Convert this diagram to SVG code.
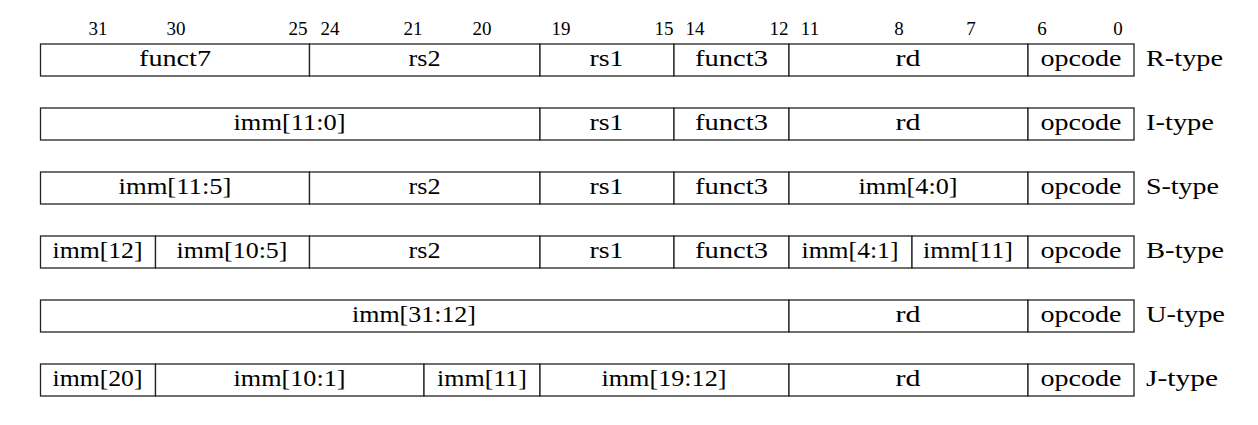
<svg xmlns="http://www.w3.org/2000/svg" width="1258" height="425" viewBox="0 0 1258 425">
<style>
rect.c{fill:#fff;stroke:#222;stroke-width:1.3}
text{font-family:"Liberation Serif","Times New Roman",serif;fill:#000}
.l{font-size:23px;text-anchor:middle}
.b{font-size:19px;text-anchor:middle}
.t{font-size:23px}
</style>
<rect width="1258" height="425" fill="#fff"/>
<g id="bits">
<text class="b" x="98" y="35">31</text>
<text class="b" x="176" y="35">30</text>
<text class="b" x="298" y="35">25</text>
<text class="b" x="330" y="35">24</text>
<text class="b" x="413" y="35">21</text>
<text class="b" x="482" y="35">20</text>
<text class="b" x="561" y="35">19</text>
<text class="b" x="664" y="35">15</text>
<text class="b" x="695" y="35">14</text>
<text class="b" x="779" y="35">12</text>
<text class="b" x="810" y="35">11</text>
<text class="b" x="899" y="35">8</text>
<text class="b" x="971" y="35">7</text>
<text class="b" x="1042" y="35">6</text>
<text class="b" x="1118" y="35">0</text>
</g>
<g id="r-type">
<rect class="c" x="40.5" y="44" width="269" height="32"/><text class="l" x="175" y="66" textLength="72" lengthAdjust="spacingAndGlyphs">funct7</text>
<rect class="c" x="309.5" y="44" width="230.5" height="32"/><text class="l" x="424.5" y="66" textLength="32" lengthAdjust="spacingAndGlyphs">rs2</text>
<rect class="c" x="540" y="44" width="134" height="32"/><text class="l" x="606.5" y="66" textLength="34" lengthAdjust="spacingAndGlyphs">rs1</text>
<rect class="c" x="674" y="44" width="115" height="32"/><text class="l" x="731.5" y="66" textLength="73" lengthAdjust="spacingAndGlyphs">funct3</text>
<rect class="c" x="789" y="44" width="239" height="32"/><text class="l" x="908" y="66" textLength="25" lengthAdjust="spacingAndGlyphs">rd</text>
<rect class="c" x="1028" y="44" width="106" height="32"/><text class="l" x="1081" y="66" textLength="81" lengthAdjust="spacingAndGlyphs">opcode</text>
<text class="t" x="1146" y="66" textLength="77" lengthAdjust="spacingAndGlyphs">R-type</text>
</g>
<g id="i-type">
<rect class="c" x="40.5" y="108" width="499.5" height="32"/><text class="l" x="289.5" y="130" textLength="112" lengthAdjust="spacingAndGlyphs">imm[11:0]</text>
<rect class="c" x="540" y="108" width="134" height="32"/><text class="l" x="606.5" y="130" textLength="34" lengthAdjust="spacingAndGlyphs">rs1</text>
<rect class="c" x="674" y="108" width="115" height="32"/><text class="l" x="731.5" y="130" textLength="73" lengthAdjust="spacingAndGlyphs">funct3</text>
<rect class="c" x="789" y="108" width="239" height="32"/><text class="l" x="908" y="130" textLength="25" lengthAdjust="spacingAndGlyphs">rd</text>
<rect class="c" x="1028" y="108" width="106" height="32"/><text class="l" x="1081" y="130" textLength="81" lengthAdjust="spacingAndGlyphs">opcode</text>
<text class="t" x="1146" y="130" textLength="68" lengthAdjust="spacingAndGlyphs">I-type</text>
</g>
<g id="s-type">
<rect class="c" x="40.5" y="172" width="269" height="32"/><text class="l" x="175" y="194" textLength="113" lengthAdjust="spacingAndGlyphs">imm[11:5]</text>
<rect class="c" x="309.5" y="172" width="230.5" height="32"/><text class="l" x="424.5" y="194" textLength="32" lengthAdjust="spacingAndGlyphs">rs2</text>
<rect class="c" x="540" y="172" width="134" height="32"/><text class="l" x="606.5" y="194" textLength="34" lengthAdjust="spacingAndGlyphs">rs1</text>
<rect class="c" x="674" y="172" width="115" height="32"/><text class="l" x="731.5" y="194" textLength="73" lengthAdjust="spacingAndGlyphs">funct3</text>
<rect class="c" x="789" y="172" width="239" height="32"/><text class="l" x="908" y="194" textLength="99" lengthAdjust="spacingAndGlyphs">imm[4:0]</text>
<rect class="c" x="1028" y="172" width="106" height="32"/><text class="l" x="1081" y="194" textLength="81" lengthAdjust="spacingAndGlyphs">opcode</text>
<text class="t" x="1146" y="194" textLength="73" lengthAdjust="spacingAndGlyphs">S-type</text>
</g>
<g id="b-type">
<rect class="c" x="40.5" y="236" width="115" height="32"/><text class="l" x="97.5" y="258" textLength="90" lengthAdjust="spacingAndGlyphs">imm[12]</text>
<rect class="c" x="155.5" y="236" width="154" height="32"/><text class="l" x="232" y="258" textLength="111" lengthAdjust="spacingAndGlyphs">imm[10:5]</text>
<rect class="c" x="309.5" y="236" width="230.5" height="32"/><text class="l" x="424.5" y="258" textLength="32" lengthAdjust="spacingAndGlyphs">rs2</text>
<rect class="c" x="540" y="236" width="134" height="32"/><text class="l" x="606.5" y="258" textLength="34" lengthAdjust="spacingAndGlyphs">rs1</text>
<rect class="c" x="674" y="236" width="115" height="32"/><text class="l" x="731.5" y="258" textLength="73" lengthAdjust="spacingAndGlyphs">funct3</text>
<rect class="c" x="789" y="236" width="123" height="32"/><text class="l" x="850" y="258" textLength="97" lengthAdjust="spacingAndGlyphs">imm[4:1]</text>
<rect class="c" x="912" y="236" width="116" height="32"/><text class="l" x="968" y="258" textLength="90" lengthAdjust="spacingAndGlyphs">imm[11]</text>
<rect class="c" x="1028" y="236" width="106" height="32"/><text class="l" x="1081" y="258" textLength="81" lengthAdjust="spacingAndGlyphs">opcode</text>
<text class="t" x="1146" y="258" textLength="78" lengthAdjust="spacingAndGlyphs">B-type</text>
</g>
<g id="u-type">
<rect class="c" x="40.5" y="300" width="748.5" height="32"/><text class="l" x="414" y="322" textLength="124" lengthAdjust="spacingAndGlyphs">imm[31:12]</text>
<rect class="c" x="789" y="300" width="239" height="32"/><text class="l" x="908" y="322" textLength="25" lengthAdjust="spacingAndGlyphs">rd</text>
<rect class="c" x="1028" y="300" width="106" height="32"/><text class="l" x="1081" y="322" textLength="81" lengthAdjust="spacingAndGlyphs">opcode</text>
<text class="t" x="1146" y="322" textLength="79" lengthAdjust="spacingAndGlyphs">U-type</text>
</g>
<g id="j-type">
<rect class="c" x="40.5" y="364" width="115" height="32"/><text class="l" x="97.5" y="386" textLength="90" lengthAdjust="spacingAndGlyphs">imm[20]</text>
<rect class="c" x="155.5" y="364" width="268.5" height="32"/><text class="l" x="289.5" y="386" textLength="112" lengthAdjust="spacingAndGlyphs">imm[10:1]</text>
<rect class="c" x="424" y="364" width="116" height="32"/><text class="l" x="482" y="386" textLength="90" lengthAdjust="spacingAndGlyphs">imm[11]</text>
<rect class="c" x="540" y="364" width="249" height="32"/><text class="l" x="664" y="386" textLength="125" lengthAdjust="spacingAndGlyphs">imm[19:12]</text>
<rect class="c" x="789" y="364" width="239" height="32"/><text class="l" x="908" y="386" textLength="25" lengthAdjust="spacingAndGlyphs">rd</text>
<rect class="c" x="1028" y="364" width="106" height="32"/><text class="l" x="1081" y="386" textLength="81" lengthAdjust="spacingAndGlyphs">opcode</text>
<text class="t" x="1146" y="386" textLength="72" lengthAdjust="spacingAndGlyphs">J-type</text>
</g>
</svg>
